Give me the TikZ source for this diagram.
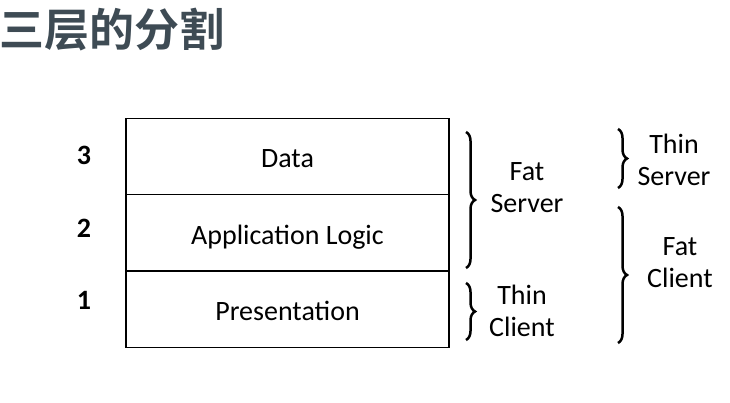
\documentclass[tikz,border=0pt]{standalone}
\usepackage{fontspec}
\setmainfont{Carlito}
\newfontfamily\cjk{Noto Sans CJK SC}[BoldFont={* Bold}]
\usetikzlibrary{decorations.pathreplacing}
\definecolor{titlegray}{HTML}{3E4B54}
\begin{document}
\begin{tikzpicture}[x=1pt,y=-1pt,
  layer/.style={draw, line width=1.3pt, minimum width=323pt, minimum height=76.3pt, inner sep=0pt, text height=23pt, text depth=0pt, font=\fontsize{28}{32}\selectfont},
  num/.style={font=\fontsize{28}{32}\selectfont\bfseries},
  lbl/.style={align=center, font=\fontsize{28}{32}\selectfont},
  bracestyle/.style={decorate, decoration={brace, amplitude=9pt}, line width=2.5pt}]
\useasboundingbox (0,0) rectangle (730,403);
\node[anchor=west, text=titlegray, font=\cjk\bfseries\fontsize{45}{50}\selectfont, inner sep=0pt] (title) at (-1,30) {三层的分割};
\node[layer] (data) at (287.5,156.5) {Data};
\node[layer] (app) at (287.5,233) {Application Logic};
\node[layer] (pres) at (287.5,309) {Presentation};
\node[num] (n3) at (84,155) {3};
\node[num] (n2) at (84,228) {2};
\node[num] (n1) at (84,300) {1};
\coordinate (fsA) at (466,132); \coordinate (fsB) at (466,268);
\coordinate (tcA) at (466,283); \coordinate (tcB) at (466,340);
\coordinate (tsA) at (618,129); \coordinate (tsB) at (618,188);
\coordinate (fcA) at (618,207); \coordinate (fcB) at (618,343);
\draw[bracestyle] (fsA) -- (fsB);
\draw[bracestyle] (tcA) -- (tcB);
\draw[bracestyle] (tsA) -- (tsB);
\draw[bracestyle] (fcA) -- (fcB);
\node[lbl] (fatserver) at (527,188) {Fat\\Server};
\node[lbl] (thinclient) at (522,311) {Thin\\Client};
\node[lbl] (thinserver) at (674,160) {Thin\\Server};
\node[lbl] (fatclient) at (680,263) {Fat\\Client};
\end{tikzpicture}
\end{document}
